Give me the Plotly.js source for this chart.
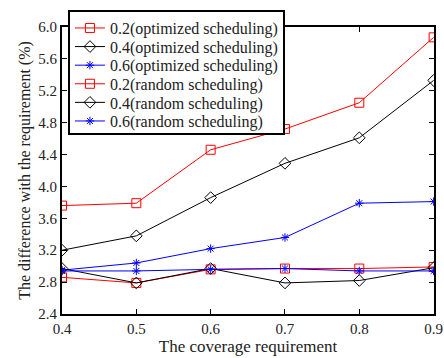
<!DOCTYPE html>
<html><head><meta charset="utf-8">
<script src="https://cdn.plot.ly/plotly-3.0.1.min.js"></script>
<style>html,body{margin:0;padding:0;background:#fff}#chart{width:444px;height:358px}</style>
</head><body><div id="chart"></div>
<script>
const coverage = [0.4, 0.5, 0.6, 0.7, 0.8, 0.9];
const opt02 = [3.76, 3.79, 4.46, 4.72, 5.05, 5.87];
const opt04 = [3.20, 3.38, 3.86, 4.29, 4.61, 5.33];
const opt06 = [2.95, 3.04, 3.22, 3.36, 3.79, 3.81];
const rnd02 = [2.86, 2.79, 2.96, 2.97, 2.97, 2.99];
const rnd04 = [2.97, 2.79, 2.97, 2.79, 2.82, 2.98];
const rnd06 = [2.94, 2.94, 2.96, 2.97, 2.94, 2.94];
const names = ["0.2(optimized scheduling)", "0.4(optimized scheduling)", "0.6(optimized scheduling)",
               "0.2(random scheduling)", "0.4(random scheduling)", "0.6(random scheduling)"];
const yTicks = [2.4, 2.8, 3.2, 3.6, 4.0, 4.4, 4.8, 5.2, 5.6, 6.0];

const sty = [
  {c:'#ff0000', s:'square-open', z:9},
  {c:'#000000', s:'diamond-open', z:9},
  {c:'#0000ff', s:'asterisk-open', z:7}
];
const series = [opt02, opt04, opt06, rnd02, rnd04, rnd06];
const traces = series.map((ys, i) => {
  const st = sty[i % 3];
  return {
    x: coverage, y: ys, name: names[i], type: 'scatter', mode: 'lines+markers',
    line: {color: st.c, width: 1},
    marker: {symbol: st.s, size: st.z, color: st.c, line: {color: st.c, width: 1}}
  };
});

const fam = '"Liberation Serif", "Times New Roman", "DejaVu Serif", serif';
const layout = {
  width: 444, height: 358,
  margin: {l: 62, r: 10, t: 25, b: 44},
  paper_bgcolor: '#fff', plot_bgcolor: '#fff',
  font: {family: fam, color: '#222', size: 16},
  showlegend: true,
  legend: {x: 0.016, y: 1.059, xanchor: 'left', yanchor: 'top',
           bgcolor: '#fff', bordercolor: '#000', borderwidth: 2,
           font: {family: fam, size: 16, color: '#222'},
           tracegroupgap: 0, itemwidth: 30},
  xaxis: {range: [0.4, 0.9005], tickvals: coverage, ticktext: coverage.map(v => v.toFixed(1)),
          ticks: 'inside', ticklen: 5, tickcolor: '#000', showgrid: false, zeroline: false,
          showline: true, linecolor: '#000', linewidth: 2, mirror: 'ticks',
          ticklabeloverflow: 'allow',
          tickfont: {family: fam, size: 15, color: '#222'},
          title: {text: 'The coverage requirement', standoff: 0, font: {family: fam, size: 17, color: '#222'}}},
  yaxis: {range: [2.4, 6.0], tickvals: yTicks, ticktext: yTicks.map(v => v.toFixed(1)),
          ticks: 'inside', ticklen: 5, tickcolor: '#000', showgrid: false, zeroline: false,
          showline: true, linecolor: '#000', linewidth: 2, mirror: 'ticks',
          tickfont: {family: fam, size: 15, color: '#222'},
          title: {text: 'The difference with the requirement (%)', standoff: 4, font: {family: fam, size: 16, color: '#222'}}}
};
Plotly.newPlot('chart', traces, layout, {displayModeBar: false, staticPlot: true}).then(() => {
  // tighten legend row spacing to match the reference
  const leg = document.querySelector('.legend');
  if (!leg) return;
  const rows = leg.querySelectorAll('.traces');
  if (rows.length < 2) return;
  const parse = el => {
    const m = /translate\(\s*([-\d.]+)[ ,]+([-\d.]+)\s*\)/.exec(el.getAttribute('transform') || '');
    return m ? [parseFloat(m[1]), parseFloat(m[2])] : [0, 0];
  };
  const p0 = parse(rows[0]), p1 = parse(rows[1]);
  const oldStep = p1[1] - p0[1];
  const newStep = 18.6;
  rows.forEach((r, i) => {
    const p = parse(r);
    r.setAttribute('transform', `translate(${p[0]},${p0[1] - 1 + i * newStep})`);
  });
  const shrink = (rows.length - 1) * (oldStep - newStep) + 6;
  const bg = leg.querySelector('rect.bg');
  if (bg) bg.setAttribute('height', parseFloat(bg.getAttribute('height')) - shrink);
});
</script></body></html>
